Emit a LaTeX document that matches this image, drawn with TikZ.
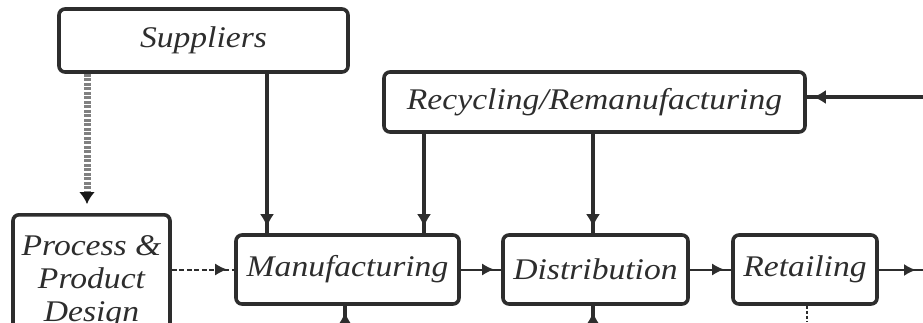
\documentclass[tikz,border=0pt]{standalone}
\usepackage{fontspec}
\setmainfont{Liberation Serif}[FakeStretch=1.12]
\usepackage{tikz}
\usetikzlibrary{arrows.meta,calc,decorations.markings}
\definecolor{boxgray}{RGB}{45,45,45}

\begin{document}
\begin{tikzpicture}[x=1pt, y=-1pt,
    stage/.style={draw=boxgray, line width=3.6pt, rounded corners=6pt, inner sep=0pt,
        align=center, text=boxgray, font=\itshape\fontsize{30}{33}\selectfont},
    feed/.style={draw=boxgray, line width=3.2pt, decoration={markings,
        mark=at position -6pt with {\arrow{Latex[length=13pt,width=14pt]}}}, postaction={decorate}},
    flow/.style={draw=boxgray, line width=2pt, decoration={markings,
        mark=at position -7pt with {\arrow{Latex[length=12pt,width=12pt]}}}, postaction={decorate}},
    plan/.style={draw=black!50, line width=7pt, dash pattern=on 3pt off 1.5pt, shorten >=9pt,
        -{Latex[length=12pt,width=16pt,color=black!90]}},
    link/.style={draw=boxgray, line width=2pt, dash pattern=on 5pt off 2.5pt, decoration={markings,
        mark=at position -7pt with {\arrow{Latex[length=12pt,width=12pt]}}}, postaction={decorate}}
]

\useasboundingbox (0,0) rectangle (923,322);
\clip (0,0) rectangle (923,322);

% ==================== BOXES ====================

\node[stage, minimum width=289, minimum height=63] (sup) at (203.5,40.5) {Suppliers};
\node[stage, minimum width=421, minimum height=60] (rec) at (594.5,102) {Recycling/Remanufacturing};

\node[stage, minimum width=157, inner ysep=21pt, anchor=north] (proc) at (91.5,213)
    {Process \&\\Product\\Design};
\node[stage, minimum width=223, minimum height=69] (man) at (347.5,269.5) {Manufacturing};
\node[stage, minimum width=185, minimum height=69] (dis) at (595.5,269.5) {Distribution};
\node[stage, minimum width=144, minimum height=69] (ret) at (805,269.5) {Retailing};

% ==================== CONNECTORS ====================

% drop points on the box edges
\coordinate (s2p) at (87,0);
\coordinate (s2m) at (267,0);
\coordinate (r2m) at (424,0);
\coordinate (r2d) at (593,0);

% free ends at the picture border
\coordinate (recin) at (923,97);
\coordinate (retout) at (923,270);
\coordinate (manin) at (345,322);
\coordinate (disin) at (593,322);
\coordinate (retdown) at (807,322);

% from the top boxes down
\draw[plan] (sup.south -| s2p) -- (proc.north -| s2p);
\draw[feed] (sup.south -| s2m) -- (man.north -| s2m);
\draw[feed] (rec.south -| r2m) -- (man.north -| r2m);
\draw[feed] (rec.south -| r2d) -- (dis.north -| r2d);
\draw[feed] (recin) -- (recin -| rec.east);

% main chain
\draw[link] (proc.east |- man.west) -- (man.west);
\draw[flow] (man.east) -- (dis.west);
\draw[flow] (dis.east) -- (ret.west);
\draw[flow] (ret.east |- retout) -- (retout);

% from below
\draw[feed] (manin) -- (manin |- man.south);
\draw[feed] (disin) -- (disin |- dis.south);
\draw[boxgray, line width=1.2pt, dash pattern=on 3pt off 2pt] (ret.south -| retdown) -- (retdown);

\end{tikzpicture}
\end{document}
